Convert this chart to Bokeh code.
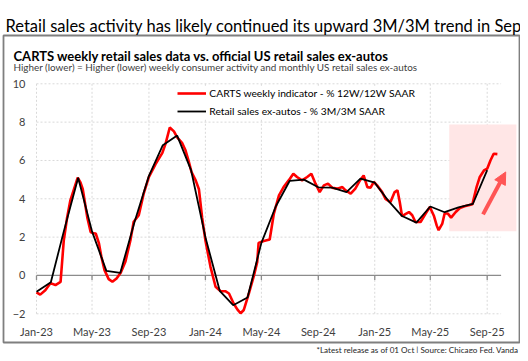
import pandas as pd
from bokeh.plotting import figure
from bokeh.models import (Label, Arrow, NormalHead, Legend, LegendItem,
                          FixedTicker, DatetimeTickFormatter, Range1d, DatetimeAxis, LinearAxis)
from bokeh.embed import file_html
from bokeh.resources import INLINE

# ---------------- data ----------------
title_text = "Retail sales activity has likely continued its upward 3M/3M trend in Sep"
box_title = "CARTS weekly retail sales data vs. official US retail sales ex-autos"
box_subtitle = "Higher (lower) = Higher (lower) weekly consumer activity and monthly US retail sales ex-autos"
footer_text = "*Latest release as of 01 Oct | Source: Chicago Fed, Vanda"
carts_label = "CARTS weekly indicator - % 12W/12W SAAR"
retail_label = "Retail sales ex-autos - % 3M/3M SAAR"

tick_dates = ["2023-01-01", "2023-05-01", "2023-09-01", "2024-01-01", "2024-05-01",
              "2024-09-01", "2025-01-01", "2025-05-01", "2025-09-01"]
tick_labels = ["Jan-23", "May-23", "Sep-23", "Jan-24", "May-24", "Sep-24", "Jan-25", "May-25", "Sep-25"]
y_ticks = [-2, 0, 2, 4, 6, 8, 10]

retail_months = pd.date_range("2023-01-01", "2025-09-01", freq="MS")
retail_values = [-0.85, -0.35, 2.3, 5.1, 2.3, 0.24, 0.13, 2.8, 5.2, 6.8, 7.3, 5.5,
                 2.0, -0.8, -1.55, -1.15, 1.7, 3.6, 4.93, 5.0, 4.6, 4.58, 4.35, 5.05,
                 4.84, 3.85, 3.1, 2.76, 3.6, 3.3, 3.55, 3.73, 5.5]

carts_dates = [
    "2023-01-01", "2023-01-09", "2023-01-20", "2023-01-31", "2023-02-11", "2023-02-22",
    "2023-03-01", "2023-03-08", "2023-03-15", "2023-03-23", "2023-03-31", "2023-04-06",
    "2023-04-11", "2023-04-15", "2023-04-21", "2023-04-28", "2023-05-04", "2023-05-09",
    "2023-05-16", "2023-05-21", "2023-05-28", "2023-06-06", "2023-06-14", "2023-06-23",
    "2023-07-02", "2023-07-12", "2023-07-23", "2023-07-30", "2023-08-10", "2023-08-21",
    "2023-09-01", "2023-09-15", "2023-09-30", "2023-10-07", "2023-10-16", "2023-10-25",
    "2023-11-01", "2023-11-12", "2023-11-19", "2023-11-26", "2023-12-02", "2023-12-11",
    "2023-12-18", "2023-12-25", "2024-01-01", "2024-01-12", "2024-01-23", "2024-02-03",
    "2024-02-13", "2024-02-21", "2024-03-02", "2024-03-10", "2024-03-17", "2024-03-24",
    "2024-04-04", "2024-04-15", "2024-04-22", "2024-04-25", "2024-05-06", "2024-05-19",
    "2024-05-28", "2024-06-08", "2024-06-18", "2024-06-29", "2024-07-09", "2024-07-17",
    "2024-07-28", "2024-08-08", "2024-08-17", "2024-08-26", "2024-09-04", "2024-09-13",
    "2024-09-22", "2024-10-01", "2024-10-12", "2024-10-23", "2024-10-30", "2024-11-10",
    "2024-11-20", "2024-11-30", "2024-12-08", "2024-12-16", "2024-12-23", "2024-12-30",
    "2025-01-06", "2025-01-17", "2025-01-24", "2025-02-04", "2025-02-13", "2025-02-19",
    "2025-02-24", "2025-03-01", "2025-03-08", "2025-03-16", "2025-03-23", "2025-03-30",
    "2025-04-10", "2025-04-21", "2025-04-30", "2025-05-09", "2025-05-15", "2025-05-19",
    "2025-05-27", "2025-06-01", "2025-06-08", "2025-06-15", "2025-06-25", "2025-07-04",
    "2025-07-14", "2025-07-23", "2025-07-31", "2025-08-09", "2025-08-16", "2025-08-25",
    "2025-09-01", "2025-09-08", "2025-09-15", "2025-09-23"]
carts_values = [
    -0.88, -1.00, -0.77, -0.40, -0.50, -0.33,
    1.84, 3.00, 3.90, 4.50, 5.10, 4.85,
    4.50, 3.90, 3.00, 2.27, 2.20, 2.19,
    1.67, 1.00, 0.28, -0.19, -0.33, -0.16,
    0.14, 0.71, 1.84, 2.80, 3.14, 4.30,
    5.14, 5.80, 6.40, 6.88, 7.72, 7.52,
    7.20, 6.90, 6.53, 5.95, 5.40, 4.96,
    4.50, 3.00, 1.84, 0.45, -0.59, -0.82,
    -0.82, -0.94, -1.46, -1.77, -1.97, -1.80,
    -0.94, 0.00, 0.71, 1.70, 1.80, 1.88,
    3.23, 4.18, 4.61, 4.96, 5.31, 5.14,
    4.96, 5.14, 5.31, 4.79, 4.35, 4.70,
    4.79, 4.58, 4.53, 4.61, 4.44, 4.27,
    4.53, 4.96, 5.22, 4.61, 4.58, 4.88,
    4.70, 4.35, 4.00, 3.83, 4.35, 4.44,
    3.83, 3.09, 3.20, 3.31, 3.14, 2.79,
    2.79, 3.23, 3.57, 3.10, 2.60, 2.36,
    2.71, 3.23, 3.23, 3.02, 3.31, 3.52,
    3.61, 3.66, 3.71, 4.61, 5.14, 5.48,
    5.57, 6.00, 6.35, 6.33]

# highlight box and arrow (annotations)
highlight_start, highlight_end = "2025-06-11", "2025-11-03"
highlight_low, highlight_high = 2.31, 7.88
arrow_start_date, arrow_start_val = "2025-08-23", 3.19
arrow_end_date, arrow_end_val = "2025-10-11", 5.40
axis_start, axis_end = "2023-01-01", "2025-10-01"
y_min, y_max = -2, 10

# ---------------- layout (pixels) ----------------
W, H = 520, 353
DATA_LEFT_PX = 36.0        # where axis_start sits
PX_PER_DAY = 0.46273
DATA_TOP_PX = 83.3         # where y_max sits
PX_PER_UNIT = 19.167
DAY_MS = 86400000.0
BOX_PX = (3, 35, 519, 342)  # left, top, right, bottom of the framing box


def ms(d):
    return pd.Timestamp(d).value // 10**6


t0 = ms(axis_start)
x_lo = t0 - DATA_LEFT_PX / PX_PER_DAY * DAY_MS
x_hi = t0 + (W - DATA_LEFT_PX) / PX_PER_DAY * DAY_MS
y_hi = y_max + DATA_TOP_PX / PX_PER_UNIT
y_lo = y_max - (H - DATA_TOP_PX) / PX_PER_UNIT


def px_to_x(px):
    return x_lo + px / W * (x_hi - x_lo)


def py_to_y(py):
    return y_hi - py / H * (y_hi - y_lo)


FONT = "Lato"

p = figure(width=W, height=H, output_backend="svg", toolbar_location=None, title=None,
           x_axis_type=None, y_axis_type=None,
           x_range=Range1d(x_lo, x_hi), y_range=Range1d(y_lo, y_hi))
p.min_border = 0
p.min_border_left = p.min_border_right = p.min_border_top = p.min_border_bottom = 0
p.outline_line_color = None
p.background_fill_color = "white"
p.border_fill_color = "white"

tick_ms = [ms(d) for d in tick_dates]

# axes placed at the data area's edges
fmt = "%b-%y"
xaxis = DatetimeAxis(fixed_location=y_min, ticker=FixedTicker(ticks=tick_ms),
                     formatter=DatetimeTickFormatter(years=fmt, months=fmt, days=fmt, hours=fmt,
                                                     minutes=fmt, seconds=fmt, milliseconds=fmt,
                                                     microseconds=fmt))
yaxis = LinearAxis(fixed_location=t0, ticker=FixedTicker(ticks=y_ticks))
for ax in (xaxis, yaxis):
    ax.axis_line_color = None
    ax.major_tick_line_color = None
    ax.minor_tick_line_color = None
    ax.major_tick_out = 0
    ax.major_tick_in = 0
    ax.minor_tick_out = 0
    ax.major_label_text_font = FONT
    ax.major_label_text_font_size = "11px"
    ax.major_label_text_color = "#404040"
    ax.major_label_standoff = 11
p.add_layout(xaxis, "below")
p.add_layout(yaxis, "left")

# framing box
p.quad(left=[px_to_x(BOX_PX[0])], right=[px_to_x(BOX_PX[2])],
       top=[py_to_y(BOX_PX[1])], bottom=[py_to_y(BOX_PX[3])],
       fill_color=None, line_color="#7f7f7f", line_width=1.8)

# dashed grid limited to the data area
grid_style = dict(line_color="#d9d9d9", line_width=1, line_dash="2 2")
p.segment(x0=tick_ms, y0=y_min, x1=tick_ms, y1=y_max, **grid_style)
p.segment(x0=t0, y0=y_ticks, x1=ms(axis_end), y1=y_ticks, **grid_style)

# highlight region
p.quad(left=[ms(highlight_start)], right=[ms(highlight_end)],
       bottom=[highlight_low], top=[highlight_high],
       fill_color="#FFE6E6", line_color=None)

# zero line + tick marks
p.segment(x0=[t0], y0=[0], x1=[ms(axis_end)], y1=[0], line_color="#8c8c8c", line_width=1.3)
p.segment(x0=tick_ms, y0=0, x1=tick_ms, y1=-0.24, line_color="#8c8c8c", line_width=1.3)

red = p.line([ms(d) for d in carts_dates], carts_values, line_color="#FF0000", line_width=2.6)
black = p.line([ms(d) for d in retail_months], retail_values, line_color="#000000", line_width=1.8)

p.add_layout(Arrow(end=NormalHead(size=12, fill_color="#FF5555", line_color="#FF5555"),
                   x_start=ms(arrow_start_date), y_start=arrow_start_val,
                   x_end=ms(arrow_end_date), y_end=arrow_end_val,
                   line_color="#FF5555", line_width=4))

legend = Legend(items=[LegendItem(label=carts_label, renderers=[red]),
                       LegendItem(label=retail_label, renderers=[black])],
                location=(177.3, 235))
legend.label_text_font = FONT
legend.label_text_font_size = "10.3px"
legend.label_text_color = "#000000"
legend.glyph_width = 29
legend.glyph_height = 14
legend.label_height = 14
legend.spacing = 4
legend.padding = 5
legend.margin = 0
legend.label_standoff = 3
legend.border_line_color = None
legend.background_fill_color = "white"
legend.background_fill_alpha = 1
p.add_layout(legend)

# texts (screen units from the bottom-left corner)
p.add_layout(Label(x=5, y=H - 25, x_units="screen", y_units="screen", text=title_text,
                   text_font=FONT, text_font_size="16.5px", text_color="#000000",
                   text_baseline="alphabetic"))
p.add_layout(Label(x=13, y=H - 55.5, x_units="screen", y_units="screen", text=box_title,
                   text_font=FONT, text_font_size="13px", text_font_style="bold",
                   text_color="#000000", text_baseline="alphabetic"))
p.add_layout(Label(x=13, y=H - 66.5, x_units="screen", y_units="screen", text=box_subtitle,
                   text_font=FONT, text_font_size="9.9px", text_color="#404040",
                   text_baseline="alphabetic"))
p.add_layout(Label(x=518, y=H - 349, x_units="screen", y_units="screen", text=footer_text,
                   text_font=FONT, text_font_size="8.1px", text_color="#262626",
                   text_align="right", text_baseline="alphabetic"))

open("out.html", "w").write(file_html(p, INLINE))
